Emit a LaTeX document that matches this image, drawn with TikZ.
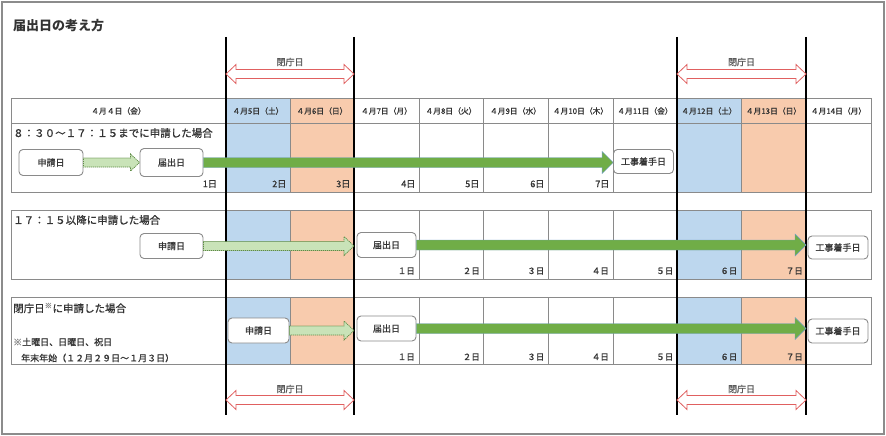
\documentclass[tikz,border=0pt]{standalone}
\usepackage{fontspec}
\setmainfont{Noto Sans CJK JP}
\newfontfamily\medjp{Noto Sans CJK JP}[FakeBold=0.9]
\usetikzlibrary{calc,arrows.meta}
\definecolor{bluecell}{HTML}{BDD7EE}
\definecolor{orangecell}{HTML}{F8CBAD}
\definecolor{gridgray}{HTML}{8A8A8A}
\definecolor{arrowgreen}{HTML}{70AD47}
\definecolor{arrowedge}{HTML}{6F9FC8}
\definecolor{lightgreen}{HTML}{C9E3B8}
\definecolor{dashgreen}{HTML}{5E8C45}
\definecolor{closedred}{HTML}{E06060}
\definecolor{txt}{HTML}{333333}
\definecolor{framegray}{HTML}{8C8C8C}
\newcommand{\myfatarrow}[6]{% style, start, end, shaft half, head half, head length
  \draw[#1] ($(#2)+(0,-#4)$) -- ($(#3)+(-#6,-#4)$) -- ($(#3)+(-#6,-#5)$) -- (#3)
    -- ($(#3)+(-#6,#5)$) -- ($(#3)+(-#6,#4)$) -- ($(#2)+(0,#4)$) -- cycle;}
\newcommand{\mydblarrow}[6]{% style, left, right, shaft half, head half, head length
  \draw[#1] (#2) -- ($(#2)+(#6,-#5)$) -- ($(#2)+(#6,-#4)$) -- ($(#3)+(-#6,-#4)$)
    -- ($(#3)+(-#6,-#5)$) -- (#3) -- ($(#3)+(-#6,#5)$) -- ($(#3)+(-#6,#4)$)
    -- ($(#2)+(#6,#4)$) -- ($(#2)+(#6,#5)$) -- cycle;}
\tikzset{
  grid/.style={draw=gridgray, line width=0.8pt},
  closedline/.style={draw=black, line width=2.6pt},
  redarrow/.style={draw=closedred, fill=white, line width=0.8pt, line join=miter},
  greenarrow/.style={fill=arrowgreen, draw=arrowedge, line width=0.4pt},
  dotarrow/.style={fill=lightgreen, draw=dashgreen, dash pattern=on 1.2pt off 0.8pt, line width=0.7pt},
  box/.style={draw=gridgray, line width=0.9pt, rounded corners=4pt, fill=white, text=txt,
    inner sep=0pt, font=\medjp\fontsize{9}{10}\selectfont},
  hdr/.style={text=txt, inner sep=0pt, font=\medjp\fontsize{7.8}{9}\selectfont},
  sectitle/.style={anchor=west, text=txt, inner sep=0pt, font=\medjp\fontsize{10.5}{12}\selectfont},
  note/.style={anchor=west, text=txt, inner sep=0pt, font=\medjp\fontsize{9}{10}\selectfont},
  daylbl/.style={anchor=east, text=txt, inner sep=0pt, font=\medjp\fontsize{9}{10}\selectfont},
  daylblw/.style={anchor=east, text=txt, inner sep=0pt, font=\medjp\fontsize{8.5}{10}\selectfont},
  closedlbl/.style={text=black!65, inner sep=0pt, font=\medjp\fontsize{9}{10}\selectfont},
}
\begin{document}
\begin{tikzpicture}[x=1pt,y=-1pt]
\useasboundingbox (0,0) rectangle (886,436);
\fill[white] (0,0) rectangle (886,436);
\draw[framegray, line width=1.2pt] (2,2) rectangle (884,434);

% title
\node[anchor=west, inner sep=0pt, text=txt, font=\fontsize{13}{15}\selectfont\bfseries] (title) at (13,26) {届出日の考え方};

% cell fills
\foreach \a/\b/\c in {226/290/bluecell, 290/354/orangecell, 677/741/bluecell, 741/806/orangecell} {
  \fill[\c] (\a,98) rectangle (\b,192.5);
  \fill[\c] (\a,210) rectangle (\b,279);
  \fill[\c] (\a,297) rectangle (\b,364);
}

% grid
\draw[grid] (11,98) rectangle (871,192.5);
\draw[grid] (11,123.5) -- (871,123.5);
\draw[grid] (11,210) rectangle (871,279);
\draw[grid] (11,297) rectangle (871,364);
\foreach \x in {226,290,354,419,483,548,613,677,741,806} {
  \draw[grid] (\x,98) -- (\x,192.5);
  \draw[grid] (\x,210) -- (\x,279);
  \draw[grid] (\x,297) -- (\x,364);
}

% header texts
\node[hdr] (h0) at (118.5,111) {４月４日（金）};
\node[hdr] (h1) at (258,111) {４月5日（土）};
\node[hdr] (h2) at (322,111) {４月6日（日）};
\node[hdr] (h3) at (386.5,111) {４月7日（月）};
\node[hdr] (h4) at (451,111) {４月8日（火）};
\node[hdr] (h5) at (515.5,111) {４月9日（水）};
\node[hdr] (h6) at (580.5,111) {４月10日（木）};
\node[hdr] (h7) at (645,111) {４月11日（金）};
\node[hdr] (h8) at (709,111) {４月12日（土）};
\node[hdr] (h9) at (773.5,111) {４月13日（日）};
\node[hdr] (h10) at (838.5,111) {４月14日（月）};

% thick closed-day lines
\foreach \x/\n in {226/A,354/B,677/C,806/D} {
  \coordinate (top\n) at (\x,37);
  \coordinate (bot\n) at (\x,415);
  \draw[closedline] (top\n) -- (bot\n);
  \coordinate (u\n) at (\x,74);
  \coordinate (l\n) at (\x,400);
}

% closed-day double arrows
\mydblarrow{redarrow}{uA}{uB}{4.5}{9.5}{10}
\mydblarrow{redarrow}{uC}{uD}{4.5}{9.5}{10}
\mydblarrow{redarrow}{lA}{lB}{4.5}{9.5}{10}
\mydblarrow{redarrow}{lC}{lD}{4.5}{9.5}{10}
\node[closedlbl] (cl1) at (290,62) {閉庁日};
\node[closedlbl] (cl2) at (741.5,62) {閉庁日};
\node[closedlbl] (cl3) at (290,389) {閉庁日};
\node[closedlbl] (cl4) at (741.5,389) {閉庁日};

% ---- section 1
\node[sectitle] (t1) at (13,133) {８：３０～１７：１５までに申請した場合};
\node[box, minimum width=64, minimum height=26] (s1) at (51,162.5) {申請日};
\node[box, minimum width=63, minimum height=28] (d1) at (171.5,162.5) {届出日};
\node[box, minimum width=60, minimum height=24] (k1) at (643.5,161.5) {工事着手日};
\myfatarrow{dotarrow}{s1.east}{d1.west}{4.5}{8.5}{9}
\myfatarrow{greenarrow}{d1.east}{d1.east -| k1.west}{5}{11}{11}
\node[daylbl] (a1) at (217,184) {1日};
\node[daylbl] (a2) at (286.5,184) {2日};
\node[daylbl] (a3) at (350.5,184) {3日};
\node[daylbl] (a4) at (415.5,184) {4日};
\node[daylbl] (a5) at (479.5,184) {5日};
\node[daylbl] (a6) at (544.5,184) {6日};
\node[daylbl] (a7) at (609.5,184) {7日};

% ---- section 2
\node[sectitle] (t2) at (13,220) {１７：１５以降に申請した場合};
\node[box, minimum width=63, minimum height=25] (s2) at (171.5,246) {申請日};
\node[box, minimum width=59, minimum height=25] (d2) at (386.5,245) {届出日};
\node[box, minimum width=60, minimum height=23] (k2) at (838,247.5) {工事着手日};
\myfatarrow{dotarrow}{s2.east}{s2.east -| topB}{4.5}{9.5}{10}
\myfatarrow{greenarrow}{d2.east}{d2.east -| topD}{5}{11}{11}
\node[daylblw] (b1) at (415,271) {１日};
\node[daylblw] (b2) at (480,271) {２日};
\node[daylblw] (b3) at (544.5,271) {３日};
\node[daylblw] (b4) at (609,271) {４日};
\node[daylblw] (b5) at (673.5,271) {５日};
\node[daylblw] (b6) at (737.5,271) {６日};
\node[daylblw] (b7) at (803,271) {７日};

% ---- section 3
\node[sectitle] (t3) at (13,308) {閉庁日{\color{black!45}\textsuperscript{※}}に申請した場合};
\node[note] (n1) at (13,342) {{\color{black!45}※}土曜日、日曜日、祝日};
\node[note] (n2) at (21,358) {年末年始（１２月２９日～１月３日）};
\node[box, minimum width=61, minimum height=25] (s3) at (258.5,330.5) {申請日};
\node[box, minimum width=59, minimum height=25] (d3) at (386.5,328.5) {届出日};
\node[box, minimum width=60, minimum height=24] (k3) at (838,331) {工事着手日};
\myfatarrow{dotarrow}{s3.east}{s3.east -| topB}{4.5}{9.5}{10}
\myfatarrow{greenarrow}{d3.east}{d3.east -| topD}{5}{11}{11}
\node[daylblw] (e1) at (415,357) {１日};
\node[daylblw] (e2) at (480,357) {２日};
\node[daylblw] (e3) at (544.5,357) {３日};
\node[daylblw] (e4) at (609,357) {４日};
\node[daylblw] (e5) at (673.5,357) {５日};
\node[daylblw] (e6) at (737.5,357) {６日};
\node[daylblw] (e7) at (803,357) {７日};
\end{tikzpicture}
\end{document}
